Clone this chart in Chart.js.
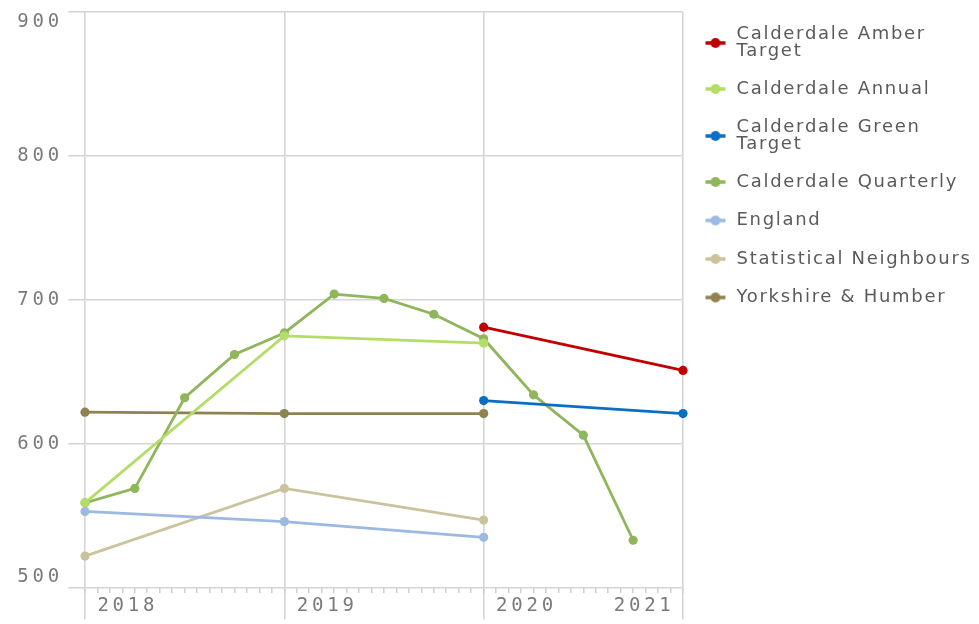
<!DOCTYPE html>
<html>
<head>
<meta charset="utf-8">
<script src="https://cdn.jsdelivr.net/npm/chart.js@4/dist/chart.umd.min.js"></script>
<style>
html, body { margin: 0; padding: 0; background: #ffffff; }
canvas { display: block; }
</style>
</head>
<body>
<canvas id="chart" width="979" height="624"></canvas>
<script>
// ---- categories ----
const quarters = ['2018 Q1','2018 Q2','2018 Q3','2018 Q4','2019 Q1','2019 Q2','2019 Q3','2019 Q4','2020 Q1','2020 Q2','2020 Q3','2020 Q4'];
const annualYears = ['2018','2019','2020'];
const targetYears = ['2020','2021'];
// ---- tick labels ----
const yearTickLabels = ['2018','2019','2020','2021'];
const yTickValues = [500, 600, 700, 800, 900];
// ---- series values ----
const amberTarget = [681, 651];
const calderdaleAnnual = [559, 675, 670];
const greenTarget = [630, 621];
const calderdaleQuarterly = [559, 569, 632, 662, 677, 704, 701, 690, 673, 634, 606, 533];
const england = [553, 546, 535];
const statNeighbours = [522, 569, 547];
const yorkshireHumber = [622, 621, 621];

// period string -> position on the time axis (in quarters since 2018 Q1)
function periodPos(s) {
  const yr = parseInt(s, 10) - 2018;
  const q = s.indexOf('Q') >= 0 ? parseInt(s.split('Q')[1], 10) - 1 : 0;
  return yr * 4 + q;
}
function toPoints(periods, values) {
  return values.map((v, i) => ({ x: periodPos(periods[i]), y: v }));
}

const seriesDefs = [
  { label: 'Calderdale Amber Target', legend: ['Calderdale Amber', 'Target'], periods: targetYears, values: amberTarget, color: '#c00000' },
  { label: 'Calderdale Annual', legend: 'Calderdale Annual', periods: annualYears, values: calderdaleAnnual, color: '#b3dd67' },
  { label: 'Calderdale Green Target', legend: ['Calderdale Green', 'Target'], periods: targetYears, values: greenTarget, color: '#0a6fc2' },
  { label: 'Calderdale Quarterly', legend: 'Calderdale Quarterly', periods: quarters, values: calderdaleQuarterly, color: '#8fb65a' },
  { label: 'England', legend: 'England', periods: annualYears, values: england, color: '#9cb9e2' },
  { label: 'Statistical Neighbours', legend: 'Statistical Neighbours', periods: annualYears, values: statNeighbours, color: '#cbc39d' },
  { label: 'Yorkshire & Humber', legend: 'Yorkshire & Humber', periods: annualYears, values: yorkshireHumber, color: '#8e8350' }
];

const LEGEND_LINE = 17;
function makeMarker(color, twoLine) {
  const w = 22;
  const h = twoLine ? LEGEND_LINE + 14 : 14;
  const c = document.createElement('canvas');
  c.width = w; c.height = h;
  const g = c.getContext('2d');
  const cy = twoLine ? h / 2 + LEGEND_LINE / 2 : h / 2;
  g.strokeStyle = color; g.lineWidth = 3.5;
  g.beginPath(); g.moveTo(1, cy); g.lineTo(w - 1, cy); g.stroke();
  g.fillStyle = color;
  g.beginPath(); g.arc(w / 2, cy, 5, 0, Math.PI * 2); g.fill();
  return c;
}
const markers = seriesDefs.map(s => makeMarker(s.color, Array.isArray(s.legend)));

const AXIS_LS = '3.8px';
const LEGEND_LS = '1.7px';
function setLS(chart, v) { try { chart.ctx.letterSpacing = v; } catch (e) {} }
const spacingPlugin = {
  id: 'letterSpacingPlugin',
  beforeLayout(chart) { setLS(chart, LEGEND_LS); },
  beforeDraw(chart) { setLS(chart, LEGEND_LS); },
  afterDatasetsDraw(chart) { setLS(chart, AXIS_LS); },
  afterDraw(chart) { setLS(chart, LEGEND_LS); }
};

const GRID = '#d6d6d6';
const TICK_TEXT = '#7a7a7a';
const yearLabelPos = [0.86, 4.86, 8.86, 11.22];

new Chart(document.getElementById('chart'), {
  type: 'line',
  data: {
    datasets: seriesDefs.map(s => ({
      label: s.label,
      data: toPoints(s.periods, s.values),
      borderColor: s.color,
      backgroundColor: s.color,
      pointBackgroundColor: s.color,
      pointBorderColor: s.color,
      borderWidth: 2.8,
      pointRadius: 4.6,
      pointBorderWidth: 0,
      tension: 0,
      fill: false,
      clip: false
    }))
  },
  options: {
    responsive: false,
    animation: false,
    events: [],
    layout: { padding: { top: 5, left: 0, right: 0, bottom: 0 } },
    scales: {
      x: {
        type: 'linear',
        min: 0,
        max: 12,
        position: { y: 500 },
        afterBuildTicks: ax => {
          const t = [];
          for (let k = 0; k <= 48; k++) t.push({ value: k * 0.25, kind: k % 16 === 0 ? 'major' : 'minor' });
          yearLabelPos.forEach((p, i) => t.push({ value: p, kind: 'label', text: yearTickLabels[i] }));
          t.sort((a, b) => a.value - b.value);
          ax.ticks = t;
        },
        beforeUpdate: s => setLS(s.chart, AXIS_LS),
        afterUpdate: s => setLS(s.chart, LEGEND_LS),
        ticks: {
          z: 1,
          autoSkip: false,
          maxRotation: 0,
          minRotation: 0,
          padding: 4,
          color: TICK_TEXT,
          font: { family: 'DejaVu Sans Mono', size: 19, lineHeight: 1 },
          callback: (value, index, ticks) => ticks[index].kind === 'label' ? ticks[index].text : ''
        },
        grid: {
          color: c => (c.tick && c.tick.kind === 'major') ? GRID : 'rgba(0,0,0,0)',
          lineWidth: 1.6,
          drawTicks: true,
          tickLength: 5,
          tickWidth: 1.5,
          tickColor: c => (c.tick && c.tick.kind === 'label') ? 'rgba(0,0,0,0)' : '#cfcfcf'
        },
        border: { display: false }
      },
      y: {
        type: 'linear',
        min: 478,
        max: 900,
        afterBuildTicks: ax => { ax.ticks = yTickValues.map(v => ({ value: v })); },
        beforeUpdate: s => setLS(s.chart, AXIS_LS),
        afterUpdate: s => setLS(s.chart, LEGEND_LS),
        afterFit: s => { s.width = 85; s.paddingTop = 12; s.paddingBottom = 0; },
        ticks: {
          z: 1,
          padding: 5,
          color: TICK_TEXT,
          font: { family: 'DejaVu Sans Mono', size: 19, lineHeight: 1.1 },
          callback: (v, i, ticks) => {
            const s = String(v);
            if (i === ticks.length - 1) return ['', s];   // top label sits just below the top edge
            if (i === 0) return [s, ''];                  // bottom label sits just above the axis
            return s;
          }
        },
        grid: {
          color: GRID,
          lineWidth: 1.6,
          drawTicks: true,
          tickLength: 17,
          tickColor: GRID,
          tickWidth: 1.6
        },
        border: { display: false }
      }
    },
    plugins: {
      title: { display: false },
      tooltip: { enabled: false },
      legend: {
        display: true,
        position: 'right',
        align: 'start',
        fullSize: true,
        maxWidth: 296,
        labels: {
          usePointStyle: true,
          pointStyleWidth: 24,
          padding: 20.5,
          color: '#5a5a5a',
          font: { family: 'DejaVu Sans', size: 18, lineHeight: LEGEND_LINE + 'px' },
          generateLabels: chart => {
            const items = Chart.defaults.plugins.legend.labels.generateLabels(chart);
            return items.map(item => {
              const def = seriesDefs[item.datasetIndex];
              item.text = def.legend;
              item.pointStyle = markers[item.datasetIndex];
              item.fontColor = '#5a5a5a';
              return item;
            });
          }
        }
      }
    }
  },
  plugins: [spacingPlugin]
});
</script>
</body>
</html>
